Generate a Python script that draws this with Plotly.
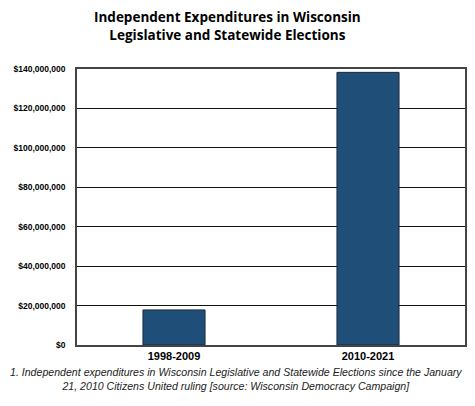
import plotly.graph_objects as go

categories = ["1998-2009", "2010-2021"]
values = [17800000, 138300000]
tick_vals = [0, 20000000, 40000000, 60000000, 80000000, 100000000, 120000000, 140000000]
tick_text = ["$0", "$20,000,000", "$40,000,000", "$60,000,000", "$80,000,000",
             "$100,000,000", "$120,000,000", "$140,000,000"]
title_text = "Independent Expenditures in Wisconsin<br>Legislative and Statewide Elections"
footnote = ("1. Independent expenditures in Wisconsin Legislative and Statewide Elections since the January"
            "<br>21, 2010 Citizens United ruling [source: Wisconsin Democracy Campaign]")

fig = go.Figure(go.Bar(
    x=categories, y=values,
    marker=dict(color="#1f4e79", line=dict(color="#1a2a40", width=1)),
    width=0.32,
))

fig.update_layout(
    width=475, height=406,
    margin=dict(l=77, r=8, t=69, b=61),
    paper_bgcolor="white", plot_bgcolor="white",
    showlegend=False,
    annotations=[
        dict(text="<b>" + title_text + "</b>", xref="paper", yref="paper",
             x=(228 - 77) / 390, y=(345 - 6) / 276, xanchor="center", yanchor="top", showarrow=False,
             font=dict(family="Open Sans", size=13.5, color="black"), align="center"),
        dict(text="<i>" + footnote + "</i>", xref="paper", yref="paper",
             x=(237 - 77) / 390, y=(345 - 364) / 276, xanchor="center", yanchor="top", showarrow=False,
             font=dict(family="Liberation Sans", size=10.6, color="#222"), align="center"),
    ],
)
fig.update_yaxes(range=[0, 140000000], tickvals=tick_vals, ticktext=tick_text,
                 showgrid=True, gridcolor="#111", gridwidth=1,
                 showline=True, linecolor="#444", linewidth=1.5, mirror=True,
                 ticks="", ticklabelstandoff=8,
                 tickfont=dict(family="Liberation Sans", size=8.5, color="black", weight="bold"),
                 zeroline=False, fixedrange=True)
fig.update_xaxes(showline=True, linecolor="#444", linewidth=1.5, mirror=True,
                 ticks="", tickfont=dict(family="Liberation Sans", size=11, color="black", weight="bold"),
                 fixedrange=True)

fig.write_html("out.html", config={"displayModeBar": False},
               post_script="document.body.style.margin='0';document.body.style.overflow='hidden';")
